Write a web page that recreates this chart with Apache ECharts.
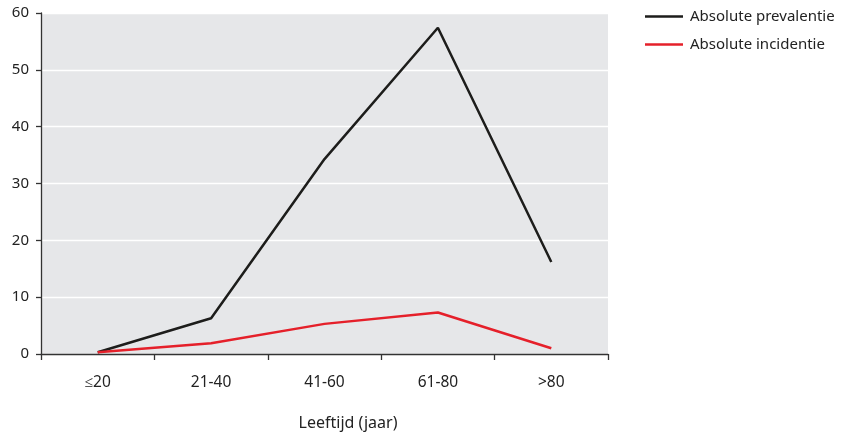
<!DOCTYPE html>
<html><head><meta charset="utf-8">
<script src="https://cdn.jsdelivr.net/npm/echarts@6/dist/echarts.min.js"></script>
<style>html,body{margin:0;padding:0;background:#fff}#c{width:851px;height:434px}</style>
</head><body><div id="c"></div>
<script>
const categories = ['≤20', '21-40', '41-60', '61-80', '>80'];
const prevalentie = [0.3, 6.3, 34.3, 57.4, 16.2];
const incidentie = [0.3, 1.9, 5.3, 7.3, 1.0];
const yTicks = [0, 10, 20, 30, 40, 50, 60];
const seriesNames = ['Absolute prevalentie', 'Absolute incidentie'];
const xTitle = 'Leeftijd (jaar)';

const chart = echarts.init(document.getElementById('c'));
const font = 'Noto Sans';
chart.setOption({
  animation: false,
  textStyle: { fontFamily: font },
  grid: { left: 41, right: 243, top: 13, bottom: 80, show: true, backgroundColor: '#e6e7e9', borderWidth: 0,
          containLabel: false, outerBoundsMode: 'none' },
  legend: {
    orient: 'vertical', left: 645, top: 9, itemGap: 13, padding: 0,
    icon: 'rect', itemWidth: 38, itemHeight: 2.5,
    textStyle: { fontFamily: font, fontSize: 15, color: '#222', padding: [0, 0, 0, 2] },
    data: seriesNames
  },
  xAxis: {
    type: 'category', data: categories, boundaryGap: true,
    name: xTitle, nameLocation: 'middle', nameGap: 61,
    nameTextStyle: { fontFamily: font, fontSize: 16, color: '#222', padding: [0, 0, 0, 47] },
    axisLine: { lineStyle: { color: '#333', width: 1.3 } },
    axisTick: { show: true, length: 6, lineStyle: { color: '#333', width: 1.3 } },
    axisLabel: { margin: 21, fontSize: 15.5, color: '#222', fontFamily: font },
    splitLine: { show: false }
  },
  yAxis: {
    type: 'value', min: yTicks[0], max: yTicks[yTicks.length - 1], interval: 10,
    axisLine: { show: true, lineStyle: { color: '#333', width: 1.3 } },
    axisTick: { show: true, length: 5, lineStyle: { color: '#333', width: 1.3 } },
    axisLabel: { margin: 12, fontSize: 15, color: '#222', fontFamily: font },
    splitLine: { show: true, lineStyle: { color: '#ffffff', width: 1.3 } }
  },
  series: [
    { name: seriesNames[0], type: 'line', data: prevalentie, symbol: 'none',
      lineStyle: { color: '#1d1d1b', width: 2.5 }, itemStyle: { color: '#1d1d1b' } },
    { name: seriesNames[1], type: 'line', data: incidentie, symbol: 'none',
      lineStyle: { color: '#e5202a', width: 2.5 }, itemStyle: { color: '#e5202a' } }
  ]
});
</script></body></html>
